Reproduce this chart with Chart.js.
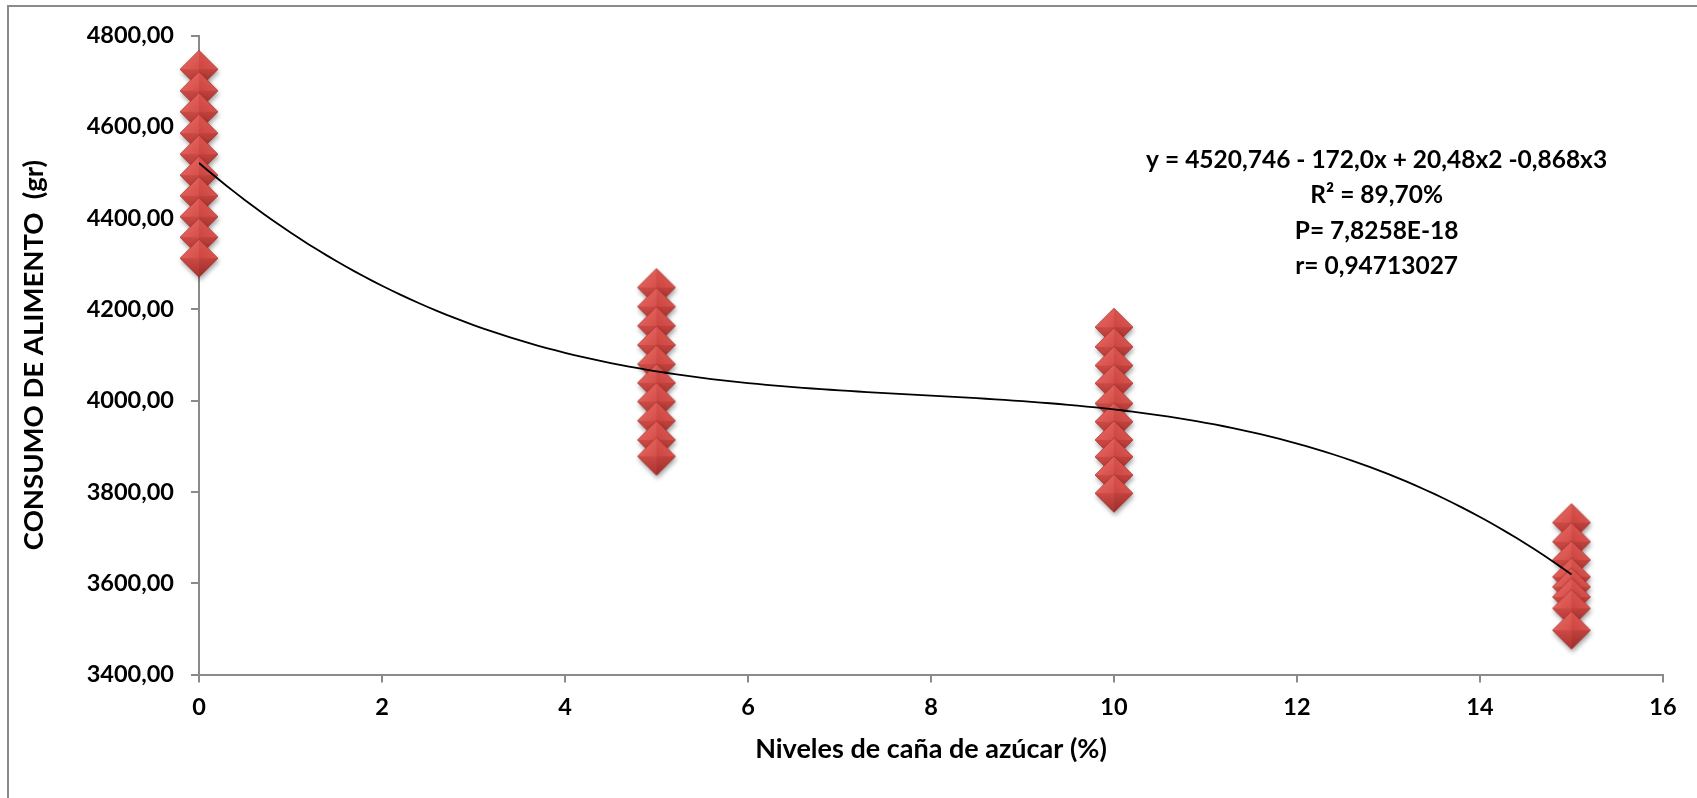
<!DOCTYPE html>
<html>
<head>
<meta charset="utf-8">
<script src="https://cdn.jsdelivr.net/npm/chart.js@4/dist/chart.umd.min.js"></script>
<style>
  html, body { margin: 0; padding: 0; background: #ffffff; }
  #wrap { width: 1697px; height: 798px; }
</style>
</head>
<body>
<div id="wrap"><canvas id="grafico" width="1697" height="798"></canvas></div>
<script>
// Niveles de caña de azúcar (%) evaluados
const niveles = [0, 5, 10, 15];

// Consumo de alimento (gr) por nivel
const consumo0  = [4726, 4679, 4633, 4586, 4540, 4494, 4449, 4403, 4358, 4312];
const consumo5  = [4248, 4206, 4164, 4122, 4080, 4039, 3998, 3956, 3914, 3878];
const consumo10 = [4161, 4118, 4077, 4038, 3994, 3954, 3914, 3877, 3837, 3797];
const consumo15 = [3733, 3691, 3651, 3614, 3592, 3570, 3545, 3497];

// Coeficientes de la tendencia polinómica de orden 3 (a + b·x + c·x² + d·x³)
const coefTendencia = [4520.746, -172.0, 20.48, -0.868];

// Ejes
const ejeX = { min: 0, max: 16, paso: 2 };
const ejeY = { min: 3400, max: 4800, paso: 200 };

// Texto de la ecuación
const lineasEcuacion = [
  'y = 4520,746 - 172,0x + 20,48x2 -0,868x3',
  'R² = 89,70%',
  'P= 7,8258E-18',
  'r= 0,94713027'
];

const seriesConsumo = [consumo0, consumo5, consumo10, consumo15];
const puntos = [];
seriesConsumo.forEach((serie, i) => {
  serie.forEach(v => puntos.push({ x: niveles[i], y: v }));
});

const tendencia = [];
for (let k = 0; k <= 150; k++) {
  const x = k / 10;
  const y = coefTendencia[0] + coefTendencia[1] * x + coefTendencia[2] * x * x + coefTendencia[3] * x * x * x;
  tendencia.push({ x, y });
}

// Marcador en forma de rombo con relieve
function crearRombo(r) {
  const pad = 9;
  const size = 2 * r + 2 * pad;
  const c = document.createElement('canvas');
  c.width = size; c.height = size;
  const g = c.getContext('2d');
  const cx = size / 2, cy = size / 2;
  const path = () => {
    g.beginPath();
    g.moveTo(cx - r, cy); g.lineTo(cx, cy - r); g.lineTo(cx + r, cy); g.lineTo(cx, cy + r);
    g.closePath();
  };
  g.save();
  g.shadowColor = 'rgba(0,0,0,0.38)';
  g.shadowBlur = 5; g.shadowOffsetX = 1; g.shadowOffsetY = 3;
  path(); g.fillStyle = '#b73c38'; g.fill();
  g.restore();
  const tri = (a, b, fill) => {
    g.beginPath(); g.moveTo(a[0], a[1]); g.lineTo(b[0], b[1]); g.lineTo(cx, cy); g.closePath();
    g.fillStyle = fill; g.fill();
  };
  const top = [cx, cy - r], right = [cx + r, cy], bottom = [cx, cy + r], left = [cx - r, cy];
  let gr = g.createLinearGradient(cx - r, cy - r, cx, cy);
  gr.addColorStop(0, '#ef6f68'); gr.addColorStop(1, '#d44f4a');
  tri(left, top, gr);
  gr = g.createLinearGradient(cx + r, cy - r, cx, cy);
  gr.addColorStop(0, '#e45f59'); gr.addColorStop(1, '#cb4641');
  tri(top, right, gr);
  gr = g.createLinearGradient(cx, cy, cx, cy + r);
  gr.addColorStop(0, '#c2423d'); gr.addColorStop(1, '#9e2d2a');
  tri(right, bottom, gr);
  gr = g.createLinearGradient(cx, cy, cx, cy + r);
  gr.addColorStop(0, '#cc4a45'); gr.addColorStop(1, '#a93330');
  tri(bottom, left, gr);
  path(); g.strokeStyle = 'rgba(140,35,32,0.55)'; g.lineWidth = 0.8; g.stroke();
  return c;
}

const fuente = "'Lato', 'Open Sans', sans-serif";
const gris = '#8a8a8a';

const fondoYMarco = {
  id: 'fondoYMarco',
  beforeDraw(chart) {
    const ctx = chart.ctx;
    ctx.save();
    ctx.fillStyle = '#ffffff';
    ctx.fillRect(0, 0, chart.width, chart.height);
    ctx.strokeStyle = gris;
    ctx.lineWidth = 2;
    ctx.strokeRect(8, 6, chart.width + 20, chart.height + 20);
    ctx.restore();
  }
};

const ecuacion = {
  id: 'ecuacion',
  afterDraw(chart) {
    const ctx = chart.ctx;
    const xs = chart.scales.x, ys = chart.scales.y;
    const cx = xs.getPixelForValue(12.87);
    const y0 = ys.getPixelForValue(4528);
    ctx.save();
    ctx.fillStyle = '#000000';
    ctx.font = "bold 24.5px " + fuente;
    ctx.textAlign = 'center';
    ctx.textBaseline = 'middle';
    lineasEcuacion.forEach((t, i) => ctx.fillText(t, cx, y0 + i * 35.5));
    ctx.restore();
  }
};

new Chart(document.getElementById('grafico'), {
  data: {
    datasets: [
      {
        type: 'line',
        label: 'Tendencia',
        data: tendencia,
        borderColor: '#000000',
        borderWidth: 1.8,
        pointRadius: 0,
        tension: 0,
        fill: false,
        order: 0
      },
      {
        type: 'scatter',
        label: 'Consumo',
        data: puntos,
        pointStyle: crearRombo(19),
        pointRadius: 19,
        clip: false,
        order: 1
      }
    ]
  },
  options: {
    responsive: false,
    animation: false,
    events: [],
    layout: { padding: { top: 35.5, right: 34, left: 0, bottom: 0 } },
    plugins: { legend: { display: false }, tooltip: { enabled: false } },
    scales: {
      x: {
        type: 'linear',
        min: ejeX.min, max: ejeX.max,
        afterFit(s) { s.height = 123.5; },
        ticks: {
          stepSize: ejeX.paso,
          color: '#000000',
          padding: 11,
          font: { family: fuente, size: 23.5, weight: 'bold' }
        },
        grid: { drawOnChartArea: false, drawTicks: true, tickLength: 8, color: gris, lineWidth: 2 },
        border: { display: true, color: gris, width: 2 },
        title: {
          display: true,
          text: 'Niveles de caña de azúcar (%)',
          color: '#000000',
          font: { family: fuente, size: 27, weight: 'bold' },
          padding: { top: 0, bottom: 33 }
        }
      },
      y: {
        type: 'linear',
        min: ejeY.min, max: ejeY.max,
        afterFit(s) { s.width = 199; },
        ticks: {
          stepSize: ejeY.paso,
          color: '#000000',
          padding: 17,
          font: { family: fuente, size: 23.5, weight: 'bold' },
          callback: v => v.toFixed(2).replace('.', ',')
        },
        grid: { drawOnChartArea: false, drawTicks: true, tickLength: 8, color: gris, lineWidth: 2 },
        border: { display: true, color: gris, width: 2 },
        title: {
          display: true,
          text: 'CONSUMO DE ALIMENTO  (gr)',
          color: '#000000',
          font: { family: fuente, size: 27.5, weight: 'bold' },
          padding: { top: 18, bottom: 0 }
        }
      }
    }
  },
  plugins: [fondoYMarco, ecuacion]
});
</script>
</body>
</html>
